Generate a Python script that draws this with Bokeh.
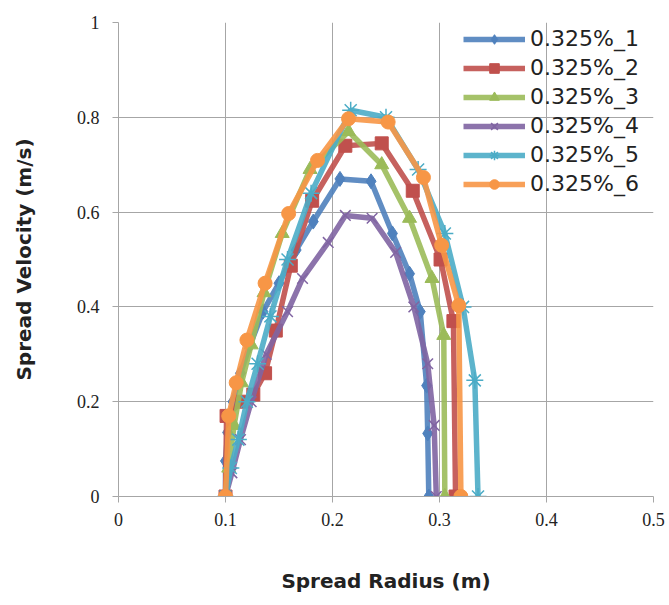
from bokeh.plotting import figure
from bokeh.models import Range1d, FixedTicker, Legend
from bokeh.embed import file_html
from bokeh.resources import INLINE

labels = ["0.325%_1", "0.325%_2", "0.325%_3", "0.325%_4", "0.325%_5", "0.325%_6"]

x1 = [0.100, 0.100, 0.102, 0.107, 0.114, 0.123, 0.135, 0.150, 0.166, 0.182, 0.207, 0.236, 0.256, 0.272, 0.282, 0.288, 0.289, 0.290]
y1 = [0.000, 0.075, 0.135, 0.200, 0.260, 0.320, 0.390, 0.450, 0.520, 0.580, 0.670, 0.665, 0.555, 0.470, 0.390, 0.234, 0.133, 0.000]

x2 = [0.100, 0.101, 0.115, 0.126, 0.137, 0.147, 0.161, 0.181, 0.212, 0.246, 0.275, 0.301, 0.313, 0.315]
y2 = [0.000, 0.170, 0.200, 0.215, 0.260, 0.350, 0.487, 0.624, 0.740, 0.745, 0.645, 0.500, 0.370, 0.000]

x3 = [0.100, 0.103, 0.108, 0.115, 0.124, 0.136, 0.153, 0.179, 0.215, 0.246, 0.272, 0.293, 0.304, 0.305]
y3 = [0.000, 0.060, 0.150, 0.240, 0.320, 0.430, 0.555, 0.690, 0.770, 0.700, 0.587, 0.460, 0.340, 0.000]

x4 = [0.100, 0.106, 0.114, 0.124, 0.138, 0.158, 0.172, 0.196, 0.212, 0.237, 0.259, 0.276, 0.289, 0.295, 0.297]
y4 = [0.000, 0.050, 0.120, 0.200, 0.300, 0.390, 0.460, 0.536, 0.593, 0.587, 0.515, 0.400, 0.280, 0.150, 0.000]

x5 = [0.100, 0.105, 0.112, 0.120, 0.130, 0.142, 0.158, 0.180, 0.217, 0.250, 0.280, 0.305, 0.322, 0.333, 0.336]
y5 = [0.000, 0.060, 0.120, 0.200, 0.280, 0.380, 0.500, 0.640, 0.815, 0.800, 0.690, 0.555, 0.400, 0.245, 0.000]

x6 = [0.100, 0.103, 0.110, 0.120, 0.137, 0.159, 0.186, 0.215, 0.252, 0.285, 0.302, 0.318, 0.320]
y6 = [0.000, 0.170, 0.240, 0.330, 0.450, 0.597, 0.709, 0.797, 0.790, 0.673, 0.530, 0.403, 0.000]

x_ticks = [0, 0.1, 0.2, 0.3, 0.4, 0.5]
y_ticks = [0, 0.2, 0.4, 0.6, 0.8, 1]

series = [(x1, y1), (x2, y2), (x3, y3), (x4, y4), (x5, y5), (x6, y6)]
colors = ["#4F81BD", "#C0504D", "#9BBB59", "#8064A2", "#4BACC6", "#F79646"]
markers = ["diamond", "square", "triangle", "x", "asterisk", "circle"]
sizes = [15, 13, 14, 15, 17, 14]
mlw = [1, 1, 1, 1.5, 1.5, 1]

p = figure(width=665, height=600, output_backend="svg", toolbar_location=None,
           x_range=Range1d(0, 0.5), y_range=Range1d(0, 1),
           min_border_left=118, min_border_right=12, min_border_top=22, min_border_bottom=104)
p.outline_line_color = None
p.background_fill_color = "white"

items = []
for (xs, ys), c, m, s, lw, lab in zip(series, colors, markers, sizes, mlw, labels):
    r1 = p.line(xs, ys, line_color=c, line_width=5.5, line_alpha=0.9)
    r2 = p.scatter(xs, ys, marker=m, size=s, fill_color=c, line_color=c, line_width=lw)
    items.append((lab, [r1, r2]))

legend = Legend(items=items, location=(341, 296))
legend.background_fill_alpha = 0
legend.border_line_alpha = 0
legend.label_text_font = "DejaVu Sans"
legend.label_text_font_size = "22px"
legend.label_text_color = "#222222"
legend.glyph_width = 62
legend.glyph_height = 24
legend.spacing = 4
legend.label_standoff = 5
legend.padding = 4
legend.margin = 0
p.add_layout(legend)

for ax in (p.xaxis[0], p.yaxis[0]):
    ax.axis_line_color = "#A6A6A6"
    ax.major_tick_line_color = "#A6A6A6"
    ax.minor_tick_line_color = None
    ax.major_tick_in = 0
    ax.major_tick_out = 6
    ax.major_label_text_font = "Liberation Serif"
    ax.major_label_text_font_size = "18px"
    ax.major_label_text_color = "#222222"
    ax.axis_label_text_font = "DejaVu Sans"
    ax.axis_label_text_font_style = "bold"
    ax.axis_label_text_font_size = "20px"
    ax.axis_label_text_color = "#222222"

p.xaxis.ticker = FixedTicker(ticks=x_ticks)
p.yaxis.ticker = FixedTicker(ticks=y_ticks)
p.xaxis.major_label_overrides = {0: "0", 0.5: "0.5"}
p.yaxis.major_label_overrides = {0: "0", 1: "1"}
p.xaxis.axis_label = "Spread Radius (m)"
p.yaxis.axis_label = "Spread Velocity (m/s)"
p.xaxis.major_label_standoff = 10
p.yaxis.major_label_standoff = 13
p.xaxis.axis_label_standoff = 40
p.yaxis.axis_label_standoff = 38

p.xgrid.ticker = FixedTicker(ticks=x_ticks)
p.ygrid.ticker = FixedTicker(ticks=y_ticks)
p.grid.grid_line_color = "#A6A6A6"
p.grid.grid_line_width = 1

open("out.html", "w").write(file_html(p, INLINE))
